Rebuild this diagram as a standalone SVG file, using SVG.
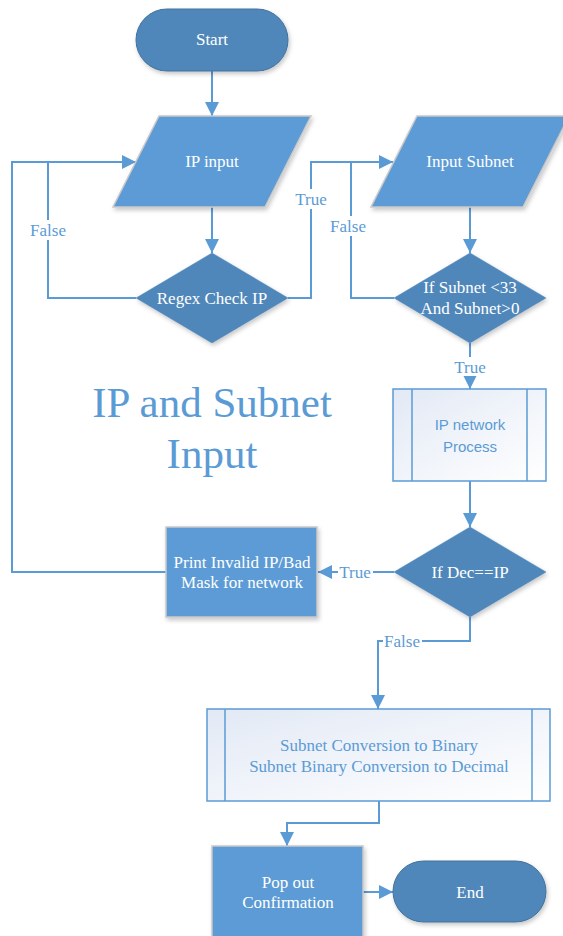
<svg xmlns="http://www.w3.org/2000/svg" width="563" height="936" viewBox="0 0 563 936">
<style>
.term{fill:#4F87BA;stroke:#41719C;stroke-width:1;filter:url(#sh)}
.io{fill:#5B9BD5;stroke:#C9C9C9;stroke-width:1.5;filter:url(#sh)}
.dec{fill:#4F87BA;stroke:#4F87BA;stroke-width:0.5;filter:url(#sh)}
.proc{fill:#5B9BD5;stroke:#C9C9C9;stroke-width:1.5;filter:url(#sh)}
.sub{fill:url(#grad);stroke:#5B9BD5;stroke-width:1.5}
.subl{stroke:#5B9BD5;stroke-width:1.5;fill:none}
.wt{font-family:'Liberation Serif','Times New Roman',Times,'DejaVu Serif',serif;font-size:17px;fill:#FFFFFF;text-anchor:middle}
.lt{font-family:'Liberation Serif','Times New Roman',Times,'DejaVu Serif',serif;font-size:17px;fill:#5B9BD5;text-anchor:middle}
.st{font-family:'Liberation Sans',Arial,sans-serif;font-size:15px;fill:#5B9BD5;text-anchor:middle}
.title{font-family:'Liberation Serif','Times New Roman',Times,'DejaVu Serif',serif;font-size:43px;fill:#5B9BD5;text-anchor:middle}
.conn{fill:none;stroke:#5B9BD5;stroke-width:2}
.lbg{fill:#FFFFFF}
</style>
<defs>
<filter id="sh" x="-10%" y="-10%" width="125%" height="130%">
<feDropShadow dx="1.5" dy="2.5" stdDeviation="2" flood-color="#000000" flood-opacity="0.22"/>
</filter>
<linearGradient id="grad" x1="0" y1="0" x2="1" y2="1">
<stop offset="0" stop-color="#E2E9F5"/>
<stop offset="1" stop-color="#FFFFFF"/>
</linearGradient>
<marker id="ah" viewBox="0 0 14 14" refX="14" refY="7" markerWidth="14" markerHeight="14" markerUnits="userSpaceOnUse" orient="auto">
<path d="M0,0 L14,7 L0,14 Z" fill="#5B9BD5"/>
</marker>
</defs>

<g id="connectors">
<path class="conn" d="M212,71 V116" marker-end="url(#ah)"/>
<path class="conn" d="M212,207 V253" marker-end="url(#ah)"/>
<path class="conn" d="M136,298 H48 V162 H136" marker-end="url(#ah)"/>
<path class="conn" d="M166,572 H12 V162 H48"/>
<path class="conn" d="M288,298 H311 V162 H393" marker-end="url(#ah)"/>
<path class="conn" d="M470,207 V253" marker-end="url(#ah)"/>
<path class="conn" d="M394,298 H351 V162 H360"/>
<path class="conn" d="M470,343 V389" marker-end="url(#ah)"/>
<path class="conn" d="M470,481 V527" marker-end="url(#ah)"/>
<path class="conn" d="M394,572 H318" marker-end="url(#ah)"/>
<path class="conn" d="M470,617 V641 H378 V709" marker-end="url(#ah)"/>
<path class="conn" d="M379,801 V823 H287 V846" marker-end="url(#ah)"/>
<path class="conn" d="M363,892 H393" marker-end="url(#ah)"/>
<rect class="lbg" x="29" y="220" width="38" height="20"/>
<text class="lt" x="48" y="236">False</text>
<rect class="lbg" x="294" y="189" width="34" height="20"/>
<text class="lt" x="311" y="205">True</text>
<rect class="lbg" x="329" y="216" width="38" height="20"/>
<text class="lt" x="348" y="232">False</text>
<rect class="lbg" x="453" y="357" width="34" height="19"/>
<text class="lt" x="470" y="373">True</text>
<rect class="lbg" x="338" y="563" width="35" height="19"/>
<text class="lt" x="355" y="578">True</text>
<rect class="lbg" x="383" y="633" width="39" height="18"/>
<text class="lt" x="402" y="647">False</text>
</g>

<g id="start">
<rect class="term" x="136" y="9" width="152" height="62" rx="31"/>
<text class="wt" x="212" y="45">Start</text>
</g>

<g id="ip-input">
<polygon class="io" points="159,116 311,116 265,207 113,207"/>
<text class="wt" x="212" y="167">IP input</text>
</g>

<g id="regex-check">
<polygon class="dec" points="212,253 288,298 212,343 136,298"/>
<text class="wt" x="212" y="304">Regex Check IP</text>
</g>

<g id="input-subnet">
<polygon class="io" points="417,116 569,116 523,207 371,207"/>
<text class="wt" x="470" y="167">Input Subnet</text>
</g>

<g id="subnet-check">
<polygon class="dec" points="470,253 546,298 470,343 394,298"/>
<text class="wt" x="470" y="293">If Subnet &lt;33</text>
<text class="wt" x="470" y="314">And Subnet&gt;0</text>
</g>

<g id="title">
<text class="title" x="212" y="417">IP and Subnet</text>
<text class="title" x="212" y="468">Input</text>
</g>

<g id="ip-network-process">
<rect class="sub" x="393" y="389" width="153" height="92"/>
<line class="subl" x1="412" y1="389" x2="412" y2="481"/>
<line class="subl" x1="527" y1="389" x2="527" y2="481"/>
<text class="st" x="470" y="430">IP network</text>
<text class="st" x="470" y="452">Process</text>
</g>

<g id="dec-check">
<polygon class="dec" points="470,527 546,572 470,617 394,572"/>
<text class="wt" x="470" y="578">If Dec==IP</text>
</g>

<g id="print-invalid">
<rect class="proc" x="166" y="527" width="151" height="90"/>
<text class="wt" x="242" y="568">Print Invalid IP/Bad</text>
<text class="wt" x="242" y="588">Mask for network</text>
</g>

<g id="subnet-conversion">
<rect class="sub" x="207" y="709" width="343" height="92"/>
<line class="subl" x1="225" y1="709" x2="225" y2="801"/>
<line class="subl" x1="532" y1="709" x2="532" y2="801"/>
<text class="lt" x="379" y="751">Subnet Conversion to Binary</text>
<text class="lt" x="379" y="772">Subnet Binary Conversion to Decimal</text>
</g>

<g id="pop-out">
<rect class="proc" x="212" y="846" width="151" height="100"/>
<text class="wt" x="288" y="888">Pop out</text>
<text class="wt" x="288" y="908">Confirmation</text>
</g>

<g id="end">
<rect class="term" x="393" y="861" width="153" height="61" rx="30.5"/>
<text class="wt" x="470" y="898">End</text>
</g>
</svg>
